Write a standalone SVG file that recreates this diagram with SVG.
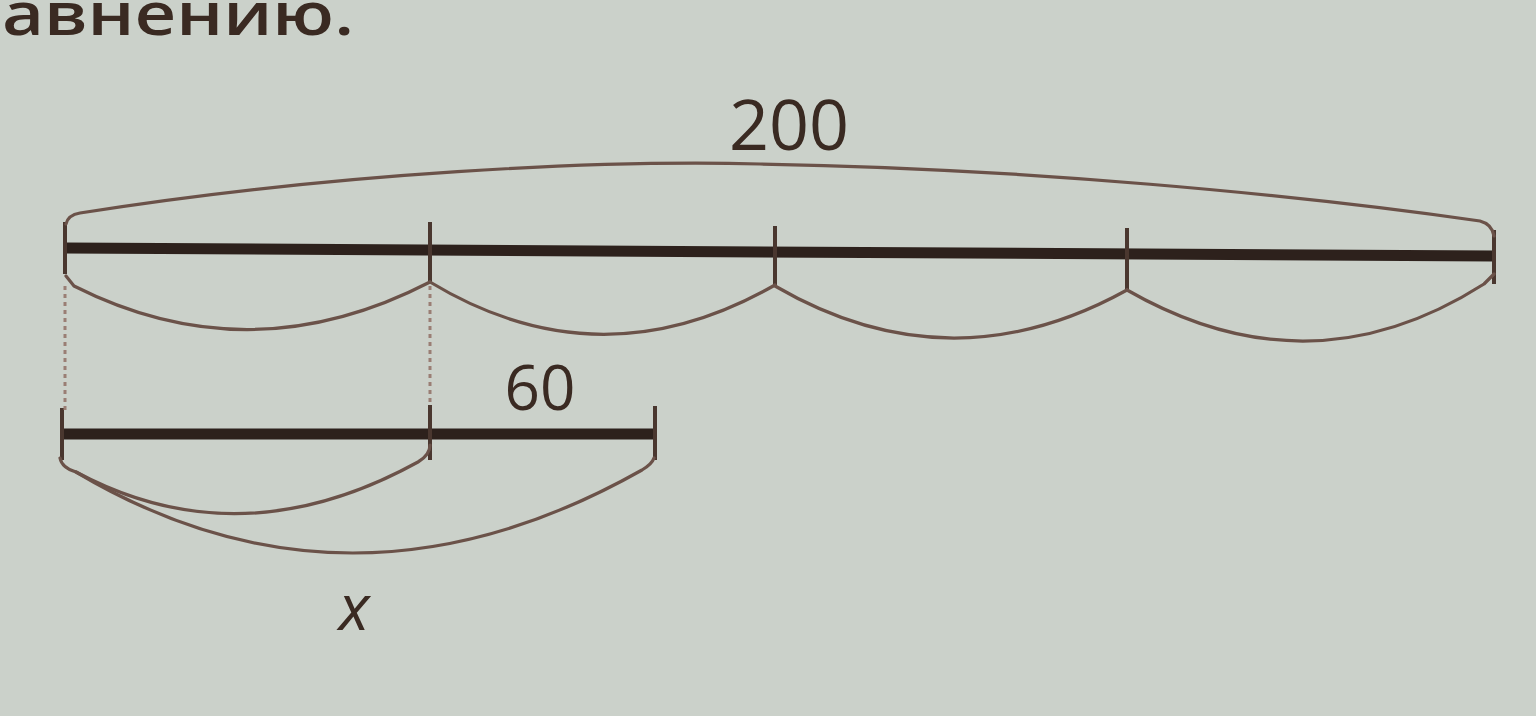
<svg xmlns="http://www.w3.org/2000/svg" width="1536" height="716" viewBox="0 0 1536 716">
<style>
.bar{stroke:#2d211c;stroke-width:11;stroke-linecap:butt;fill:none}
.tick{stroke:#4a372f;stroke-width:4;fill:none}
.brace{stroke:#6b5249;stroke-width:3.2;fill:none;stroke-linecap:round;stroke-linejoin:round}
.dot{stroke:#9a7e74;stroke-width:3;stroke-dasharray:4 4;fill:none}
.num{font-family:"Open Sans","Noto Sans",sans-serif;fill:#3a2a22;text-anchor:middle}
</style>
<rect width="1536" height="716" fill="#cbd1ca"/>
<text x="2" y="35" font-family="'Open Sans','Noto Sans',sans-serif" font-size="60" font-weight="600" fill="#3a2a22" textLength="352" lengthAdjust="spacingAndGlyphs">авнению.</text>
<g id="whole">
<line class="bar" x1="65" y1="248" x2="1494" y2="256"/>
<line class="tick" x1="65" y1="222" x2="65" y2="274"/>
<line class="tick" x1="1494" y1="230" x2="1494" y2="284"/>
<line class="tick" x1="430" y1="222" x2="430" y2="283"/>
<line class="tick" x1="775" y1="226" x2="775" y2="286"/>
<line class="tick" x1="1127" y1="228" x2="1127" y2="290"/>
<text class="num" x="789" y="150" font-size="70">200</text>
</g>
<g id="part">
<line class="bar" x1="62" y1="434" x2="655" y2="434"/>
<line class="tick" x1="62" y1="408" x2="62" y2="460"/>
<line class="tick" x1="430" y1="405" x2="430" y2="460"/>
<line class="tick" x1="655" y1="406" x2="655" y2="460"/>
<text class="num" x="540" y="410" font-size="62">60</text>
<text class="num" x="354" y="630" font-size="64" font-style="italic">x</text>
</g>
<g id="connectors">
<path class="brace" d="M66,224 Q68,215 80,213 C340,172 600,160 760,164 C1020,168 1300,195 1480,221 Q1492,224 1494,236"/>
<path class="brace" d="M66,276 L74,286 Q250,375 430,282"/>
<path class="brace" d="M430,282 Q600,385 775,285"/>
<path class="brace" d="M775,286 Q950,388 1127,290"/>
<path class="brace" d="M1127,290 Q1310,395 1484,284 L1494,274"/>
<path class="dot" d="M65,286 V410"/>
<path class="dot" d="M430,286 V404"/>
<path class="brace" d="M60,458 Q62,468 76,472 Q240,560 418,462 Q430,455 430,445"/>
<path class="brace" d="M76,472 Q350,635 642,470 Q652,464 654,458"/>
</g>
</svg>
